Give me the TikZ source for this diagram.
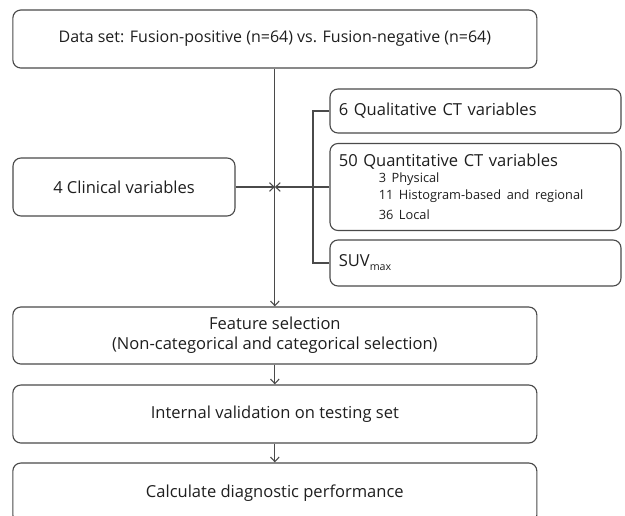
\documentclass[tikz,border=0pt]{standalone}
\usepackage{fontspec}
\setmainfont{Open Sans}
\usetikzlibrary{arrows.meta}
\definecolor{linegray}{HTML}{4A4A4A}
\definecolor{txt}{HTML}{1E1E1E}
\begin{document}
\begin{tikzpicture}[x=0.75pt,y=-0.75pt,
  box/.style={draw=linegray, line width=0.85pt, rounded corners=6pt, inner sep=0pt,
    text=txt, font=\fontsize{12.4pt}{15pt}\selectfont},
  lbox/.style={box, align=left, text width=205pt},
  conn/.style={draw=linegray, line width=0.8pt},
  arr/.style={conn, -{Straight Barb[length=3.5pt,width=6.5pt]}}]
\useasboundingbox (0,0) rectangle (625,515);
\clip (0,0) rectangle (625,515);
\node[box, minimum width=393pt, minimum height=43.5pt] (top) at (274.85,39) {\fontsize{12pt}{15pt}\selectfont Data set: Fusion-positive (n=64) vs. Fusion-negative (n=64)};
\node[box, minimum width=166.5pt, minimum height=43.5pt] (clin) at (124,187) {4 Clinical variables};
\node[lbox, minimum width=218.25pt, minimum height=33pt] (qual) at (475.5,111) {6 Qualitative CT variables};
\node[lbox, minimum width=218.25pt, minimum height=65.25pt] (quant) at (475.5,187) {50 Quantitative CT variables\\[-1.5pt]
  {\fontsize{9.6pt}{13pt}\selectfont\hspace*{30pt}3 Physical\\
  \hspace*{30pt}11 Histogram-based and regional\\
  \hspace*{30pt}36 Local}};
\node[lbox, minimum width=218.25pt, minimum height=34.5pt] (suv) at (475.5,263) {SUV\raisebox{-0.45ex}{\fontsize{8pt}{9pt}\selectfont max}};
\node[box, minimum width=393pt, minimum height=42.75pt, align=center] (feat) at (274.85,335.5) {Feature selection\\(Non-categorical and categorical selection)};
\node[box, minimum width=393pt, minimum height=43.5pt] (intv) at (274.85,414) {Internal validation on testing set};
\node[box, minimum width=393pt, minimum height=45pt] (calc) at (274.85,493) {Calculate diagnostic performance};
\coordinate (bx) at (313,0);
\coordinate (cross) at (top.south |- clin.east);
\draw[arr] (top.south) -- (feat.north);
\draw[arr] (feat.south) -- (intv.north);
\draw[arr] (intv.south) -- (calc.north);
\draw[arr] (clin.east) -- (cross);
\draw[arr] (bx |- clin.east) -- (cross);
\draw[conn] (qual.west) -- (qual.west -| bx) -- (suv.west -| bx) -- (suv.west);
\draw[conn] (quant.west) -- (quant.west -| bx);
\end{tikzpicture}
\end{document}
